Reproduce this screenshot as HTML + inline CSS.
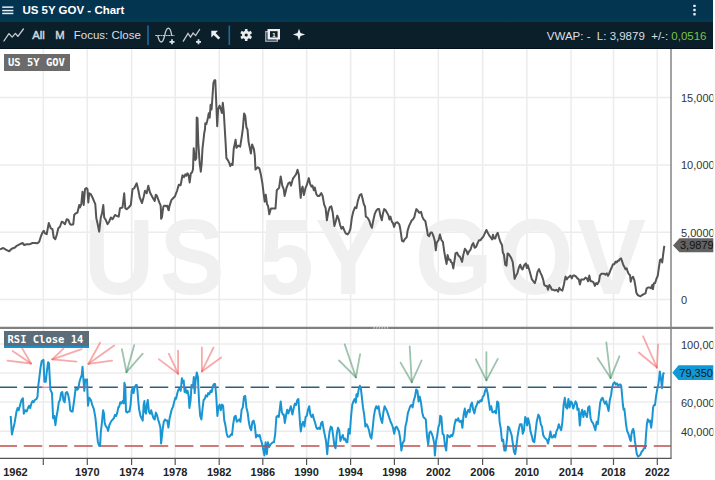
<!DOCTYPE html>
<html><head><meta charset="utf-8">
<style>
*{margin:0;padding:0;box-sizing:border-box}
html,body{width:715px;height:480px;overflow:hidden;background:#fff;font-family:"Liberation Sans",Arial,sans-serif}
#title{position:absolute;left:0;top:0;width:713px;height:21.6px;background:linear-gradient(#03344f 0,#03354f 17px,#053a53 21.6px)}
#tb{position:absolute;left:0;top:21.6px;width:713px;height:27.9px;background:#0b1f2b;border-bottom:1.5px solid #04111a}
.t{position:absolute;white-space:nowrap}
svg{position:absolute;left:0;top:0}
.g{stroke:#ececec;stroke-width:1.5}
.wm{font:bold 108px "Liberation Sans",Arial,sans-serif;fill:#f0f0f0}
.yr{font:bold 11px "Liberation Sans",Arial,sans-serif;fill:#222;text-anchor:middle}
.ax{font:11px "Liberation Sans",Arial,sans-serif;fill:#333}
.tag{font:11px "Liberation Sans",Arial,sans-serif}
.lbl{position:absolute;font:bold 10.5px "DejaVu Sans Mono",monospace;color:#fff;white-space:pre}
</style></head><body>
<div id="title"></div>
<div id="tb"></div>
<svg width="715" height="480" viewBox="0 0 715 480">
<g>
<rect x="2.2" y="6.4" width="11.2" height="1.5" fill="#e6ecf0"/>
<rect x="2.2" y="9.8" width="11.2" height="1.5" fill="#e6ecf0"/>
<rect x="2.2" y="12.7" width="11.2" height="1.5" fill="#e6ecf0"/>
<text x="22.4" y="14.1" font-family="Liberation Sans" font-weight="bold" font-size="11.5" fill="#fff">US 5Y GOV - Chart</text>
<rect x="693.3" y="4.7" width="2.4" height="2.4" rx="0.6" fill="#e8ecef"/>
<rect x="693.3" y="8.85" width="2.4" height="2.4" rx="0.6" fill="#e8ecef"/>
<rect x="693.3" y="13" width="2.4" height="2.4" rx="0.6" fill="#e8ecef"/>
<text x="32.3" y="39.3" font-family="Liberation Sans" font-size="11.3" fill="#d4d8db" stroke="#d4d8db" stroke-width="0.45">All</text>
<text x="55.2" y="39.3" font-family="Liberation Sans" font-size="11.3" fill="#d4d8db" stroke="#d4d8db" stroke-width="0.45">M</text>
<text x="73.8" y="39.3" font-family="Liberation Sans" font-size="11.5" fill="#dcdfe2">Focus: Close</text>
<text x="546.8" y="40.4" font-family="Liberation Sans" font-size="11.5" fill="#dcdfe2" xml:space="preserve">VWAP: -  L: 3,9879  +/-: <tspan fill="#7dc243">0,0516</tspan></text>
</g>
<g>
<line x1="43.3" y1="49" x2="43.3" y2="327" class="g"/>
<line x1="43.3" y1="329" x2="43.3" y2="458" class="g"/>
<line x1="87.3" y1="49" x2="87.3" y2="327" class="g"/>
<line x1="87.3" y1="329" x2="87.3" y2="458" class="g"/>
<line x1="131.6" y1="49" x2="131.6" y2="327" class="g"/>
<line x1="131.6" y1="329" x2="131.6" y2="458" class="g"/>
<line x1="175.2" y1="49" x2="175.2" y2="327" class="g"/>
<line x1="175.2" y1="329" x2="175.2" y2="458" class="g"/>
<line x1="219.2" y1="49" x2="219.2" y2="327" class="g"/>
<line x1="219.2" y1="329" x2="219.2" y2="458" class="g"/>
<line x1="262.8" y1="49" x2="262.8" y2="327" class="g"/>
<line x1="262.8" y1="329" x2="262.8" y2="458" class="g"/>
<line x1="306.6" y1="49" x2="306.6" y2="327" class="g"/>
<line x1="306.6" y1="329" x2="306.6" y2="458" class="g"/>
<line x1="350.6" y1="49" x2="350.6" y2="327" class="g"/>
<line x1="350.6" y1="329" x2="350.6" y2="458" class="g"/>
<line x1="394.4" y1="49" x2="394.4" y2="327" class="g"/>
<line x1="394.4" y1="329" x2="394.4" y2="458" class="g"/>
<line x1="438.3" y1="49" x2="438.3" y2="327" class="g"/>
<line x1="438.3" y1="329" x2="438.3" y2="458" class="g"/>
<line x1="482.6" y1="49" x2="482.6" y2="327" class="g"/>
<line x1="482.6" y1="329" x2="482.6" y2="458" class="g"/>
<line x1="526.9" y1="49" x2="526.9" y2="327" class="g"/>
<line x1="526.9" y1="329" x2="526.9" y2="458" class="g"/>
<line x1="571.1" y1="49" x2="571.1" y2="327" class="g"/>
<line x1="571.1" y1="329" x2="571.1" y2="458" class="g"/>
<line x1="613.5" y1="49" x2="613.5" y2="327" class="g"/>
<line x1="613.5" y1="329" x2="613.5" y2="458" class="g"/>
<line x1="657.3" y1="49" x2="657.3" y2="327" class="g"/>
<line x1="657.3" y1="329" x2="657.3" y2="458" class="g"/>
<line x1="0" y1="97.5" x2="671" y2="97.5" class="g"/>
<line x1="0" y1="165" x2="671" y2="165" class="g"/>
<line x1="0" y1="232.3" x2="671" y2="232.3" class="g"/>
<line x1="0" y1="299.6" x2="671" y2="299.6" class="g"/>
<line x1="0" y1="344" x2="671" y2="344" class="g"/>
<line x1="0" y1="373" x2="671" y2="373" class="g"/>
<line x1="0" y1="402" x2="671" y2="402" class="g"/>
<line x1="0" y1="431.3" x2="671" y2="431.3" class="g"/>
<text transform="translate(84.00,294) scale(0.9000,1)" class="wm">U</text>
<text transform="translate(159.80,294) scale(0.9000,1)" class="wm">S</text>
<text transform="translate(259.18,294) scale(0.9057,1)" class="wm">5</text>
<text transform="translate(315.27,294) scale(0.9162,1)" class="wm">Y</text>
<text transform="translate(414.70,294) scale(0.9260,1)" class="wm">G</text>
<text transform="translate(498.00,294) scale(0.9000,1)" class="wm">O</text>
<text transform="translate(576.94,294) scale(0.9571,1)" class="wm">V</text>
<polyline points="0,249.2 3.3,248 5.8,249.7 9.2,251.3 11.7,248.7 15,247.5 16.7,245.8 20,244.2 22.5,243 24.2,245 26.7,244.2 30,244.2 32.5,243 35,243 37.5,243.3 39.2,241.7 40.8,236.7 42.5,232.5 43.7,230.8 45,233.3 46.7,234.2 48.8,223 50.8,228.3 52.5,229.2 53.7,237.5 55.3,239.2 56.7,235 58.3,228.3 60,226.7 61.7,221.7 63.3,222.5 65,224.2 66.7,219.2 68.3,220 70,224.2 71.7,224.7 73.3,224.2 74.2,215 75.8,213.3 77.5,212.5 79.2,205 80,207.5 81.3,204.2 82.5,191.7 83.7,205 85,189.2 86.3,188 87.5,189.2 88.3,202.5 89.2,193.3 90.8,194.2 92.5,197.5 94.2,201.7 95.3,204.2 96.3,218.3 97.5,223.3 99.2,231.7 100.8,217.5 102,213.3 103.3,205 104.2,217.5 105.8,220 107.5,224.2 109.2,221.7 110.8,217.5 112.5,219.2 115,215 116.7,215.8 118.7,216.7 120,208.3 122.5,207.5 124.2,193.3 125.3,208.3 126.7,209.2 128.7,207.5 130.8,205 132.5,189.2 134.2,188.3 136.7,183.3 138.3,190 139.7,197.5 142,203 143.7,196.7 145,190.8 146.7,193.3 148.3,185.8 150,192.5 151.7,195.8 153.3,198.8 154.7,201 155.8,194.7 156.9,195.8 158,198.8 159.5,202.8 160.6,205.3 161,211.9 161.1,218.8 162,217 162.8,210.4 163.5,206.4 164.2,205.7 165.3,205.7 166.4,206.4 167.5,205.7 168.2,209.7 168.8,210.1 169.3,206.8 170.4,203.1 171.5,199.9 172.6,198.8 174.1,197.3 175.2,195.8 175.9,193.6 177,191.1 178.8,184.7 180.6,185.3 181.6,180 182.5,175.3 184,177.2 185.3,174.4 186.3,175.8 187.5,173.3 188.7,175.8 189.7,182.5 190.8,173.3 192,172.5 193,169.2 193.7,148.3 194.7,156.7 195.3,160 196.3,158.3 196.7,117.5 197.5,118.3 198.3,143.3 199.7,163.3 200.8,171.7 201.7,163.3 202.5,148.3 203.3,141.7 204.2,133.3 205,129.2 205.3,123.3 206.3,124.2 207,121.7 208,117.5 208.7,113.3 209.7,117.8 210.6,104.7 211.6,109.4 212.5,96.3 213.4,83.1 214.4,80.3 215.3,80.3 215.9,94.4 217.2,126.3 218.1,109.4 219.6,105.6 220.9,109.4 221.9,113.1 222.8,102.8 223.8,112.2 224.6,126 225.7,144.4 226.4,158.1 228,160.4 229.2,162.7 230.3,166.1 231.5,163.9 232.6,165 233.7,149 235.6,139.8 236.5,147.8 238.3,145.5 240.2,146.7 241.8,136.4 242.9,128.3 244.1,113.4 245.2,115.7 246.4,127.2 247.5,129.5 248.6,142.1 249.8,147.8 250.9,153.5 252.1,144.4 253.9,149 254.8,155.8 255.5,169.6 256.7,168.4 257.8,167.3 259.4,168.4 260.8,174.2 262.4,183.3 263.5,192.5 264.7,201.7 265.8,194.8 267,204 268.1,206.2 269.3,214.3 270.9,208.5 273.2,208.5 275.5,208.5 276.8,190.2 279.1,187.9 280.7,176.5 282.3,185.6 283.7,189.1 284.6,195.9 286.5,187.9 288.3,183.3 289.9,182.2 291,185.6 292.9,178.7 294.5,176.5 296.1,174.2 297.5,169.7 298.8,174.4 299.8,187.5 300.7,197.8 301.6,189.4 302.6,186.6 303.9,195 305.4,188.4 306.9,184.7 308.8,178.1 310.1,183.8 311.4,186.6 312.5,185.6 313.8,190.3 314.8,187.5 316.3,194.1 317.6,195.9 319.4,195.9 321.3,193.1 322.6,195.9 324.1,204.4 325.6,208.1 326.9,220.3 328.3,211.9 329.8,207.2 331.3,206.3 332.6,211.9 334.4,225.9 335.8,221.3 337.3,215.6 338.8,219.4 340.1,225 341.4,228.8 342.9,226.9 344.4,230.6 345.7,233.4 347.6,234.4 349.1,232.5 350.4,228.8 351.9,217.5 353.2,211.9 355.1,207.2 356.4,208.1 357.9,200.6 359.8,195 361.3,194.1 362.6,198.8 363.9,204.4 365,206.3 365.8,216.6 367.3,217.5 369.1,220.3 370.6,225 371.9,227.8 373.5,219.4 374.8,213.8 376.1,210.9 377.6,209.1 379.1,209.1 380.4,215.6 381.8,220.3 382.9,213.8 384.2,209.1 385.5,210 387,212.8 388.5,215.6 389.3,219.4 390.4,216.6 391.7,221.3 393,223.1 394.1,226.9 395.4,223.1 397.3,222.2 399.2,224.1 400.1,227.8 401.1,234.4 402,240.9 403.5,241.5 404.8,239.1 406.7,237.2 407.6,230.6 409.1,225.9 410.4,223.1 411.8,220.3 412.9,219.4 414.2,217.5 415.1,213.8 416.4,209.1 417.9,210.9 419.3,212.8 421.1,211.9 422.3,216.6 423.6,219.4 425.4,221.3 426.8,228.8 427.9,235.3 429.2,236.3 430.5,232.5 432,232.5 433.5,236.3 434.8,240.9 435.8,250.3 436.7,242.8 438.6,240 439.9,234.4 441.4,240 442.9,241.9 444.2,251.3 445.5,258.8 446.6,264 447.6,255 448.9,259.7 450.4,259.7 450.8,261.9 452.1,262.8 453.3,268.4 454.6,260 455.5,253.4 457,252.5 458.3,255.3 460.2,257.2 462.1,261.9 463.4,254.4 464.9,248.8 466.4,250.6 467.7,254.4 469,251.6 470.5,249.7 472,245 473.3,243.1 474.6,247.8 476.1,246.9 477.6,243.1 478.9,240.3 480.3,240.3 481.8,238.4 483.3,236.6 484.6,233.8 486.4,230 487.8,232.8 489.3,235.6 490.8,237.5 492.1,239.4 493,234.7 493.9,238.4 495.3,238.4 496.4,234.7 497.7,232.8 499,237.5 500.5,242.2 502,245 502.8,252.5 503.9,254.4 505.2,264.7 506.5,265.6 507.6,253.4 508.9,254.4 510.8,257.2 512.7,261.9 513.6,269.4 514.6,278.8 515.9,275.9 517.4,273.1 518.9,267.5 520.2,264.7 521.5,268.4 522.6,269.4 524,265.6 524.9,264.4 525.9,263.4 526.8,268.1 527.8,265.3 529.3,270 530.6,274.7 531.9,279.4 533.4,281.3 534.9,283.1 536.2,278.4 537.5,271.9 539,269.1 540.5,272.8 541.8,275.6 543.1,279.4 544.3,285 545.6,285.9 546.9,285.9 548,289.7 549.3,285 550.6,286.9 551.8,289.7 553.1,289.7 554.9,290.6 556.8,289.7 558.1,291.6 559.3,287.8 560.6,289.7 562.4,290.6 563.8,285 564.9,279.4 565.6,276.6 566.8,279.4 568.1,277.5 569.4,276.6 570.5,275.6 571.8,278.4 573.1,275.6 574.6,275.6 576.1,276.6 577.4,278.4 578.8,279.4 579.9,284.6 581.2,279.4 582.5,279.4 584,279.4 585.5,277.5 586.8,278.4 588.1,281.3 589.3,275.6 590.6,281.3 591.9,281.3 593.4,282.2 594.9,285.9 596.2,283.1 597.5,284.1 599,281.3 599.9,275.6 601.3,273.8 602.8,273.8 603.8,273.7 605.5,274.7 606.7,273.3 608,275.8 609.3,273.3 610.5,270 611.7,267.5 613,264.2 614.3,264.2 615.5,261.7 616.7,262.5 617.7,260.8 618.8,260.8 619.7,259.2 621,258.3 622.2,261.7 623.3,265 624.7,267.5 625.5,269.2 626.7,268.3 627.7,271.7 628.8,274.2 630,275 630.7,281.7 631.7,278.3 633,276.7 634.3,280 635.5,286.7 636.3,292.5 637.7,295 639.3,295.8 640.5,296.3 642.2,295 643.8,294.2 645.5,293.3 646.7,288.3 648,287.5 649.7,287.5 651,288.3 652.2,285 653,289.2 653.8,283.3 655,283.3 656.3,279.2 657.7,275.8 658.8,268.3 660,260 661,259.2 662.2,262.5 663.3,253.3 664.3,245.8" fill="none" stroke="#555" stroke-width="2" stroke-linejoin="round"/>
<line x1="0" y1="387.3" x2="671" y2="387.3" stroke="#2f5d7c" stroke-width="1.6" stroke-dasharray="18.5 6.7" stroke-dashoffset="1.45"/>
<line x1="0" y1="446" x2="671" y2="446" stroke="#c0504f" stroke-width="1.6" stroke-dasharray="18.5 6.7" stroke-dashoffset="1.45"/>
<polyline points="10.7,416 11.9,434.4 13,429.8 14.6,422.9 16.5,411.5 17.6,408 18.7,410.3 19.9,405.7 21.5,400 22.9,398.2 23.8,413.7 25.2,410.3 26.8,411.5 27.9,408 29.1,405.7 30.2,408 31.4,403.4 32.5,401.1 33.6,402.3 34.8,400 36.6,398.8 37.5,396.6 38.2,386.2 39.4,377.1 40.5,367.9 41.7,361 43.5,359.9 44.4,381.7 45.8,381.7 46.7,372.5 48.1,362.2 49,363.3 49.7,377.1 50.4,389.7 52,393.1 53.1,418.3 54.3,416 55.4,425.2 56.6,416 57.7,410.3 58.8,402.3 60,400 61.1,393.1 62.3,392 63.4,400 64.6,402.3 65.7,393.1 66.9,392 68,394.3 69.2,400 70.3,410.3 71.5,411.5 72.6,411.5 74.2,400 75.6,388.5 77.2,389.7 78.3,388.5 79.5,381.7 80.6,378.2 81.8,374.8 82.5,366.8 83.4,379.4 84.3,390.8 85.2,379.4 86.4,380.5 87,379.4 87.5,393.1 88,405.7 89.3,397.7 90.9,400 92.1,404.6 93.9,409.2 95.5,418.3 96.7,430.9 97.8,441.2 99,445.8 100.1,445.8 100.8,432.1 101.9,422.9 103.1,410.3 104,413.7 104.7,422.9 105.8,426.3 107,427.5 108.1,430.9 109.3,425.2 110.4,422.9 111.6,420.6 112.7,419.5 113.8,418.3 115,414.9 116.1,416 117.3,412.6 118.4,406.9 119.1,406.9 120.3,402.3 121.4,403.4 122.6,401.1 123.7,403.4 124.4,382.8 125.3,386.2 126,411.5 127.2,412.6 128.3,411.5 129.5,411.5 130.6,404.6 131.7,390.8 132.9,387.4 133.6,393.1 134.5,387.4 135.9,385.1 136.8,385.1 137.5,390.8 138.2,400 139.1,409.2 140.5,416 141.6,418.3 142.7,420.6 143.7,404.6 144.4,401.1 145,411.5 146,413.7 146.9,404.6 147.8,400 148.9,411.5 150.1,413.7 151.2,410.3 152.4,414.9 153.5,418.3 154.7,419.5 155.8,412.6 157,414.9 158.1,419.5 159.2,422.9 160.4,427.5 161.1,443.5 162,435.5 162.9,427.5 163.8,421.8 165,419.5 166.1,420.6 167.3,420.6 168.4,427.5 169.6,418.3 170.7,413.7 171.8,409.2 173,406.9 174.1,402.3 175.3,397.7 176.1,398.8 177.3,393.1 178.4,389.7 179.6,388.5 180.7,390.8 181.9,378.2 182.6,382.8 183.7,380.5 184.6,392 185.5,388.5 186.5,393.1 187.6,390.8 188.7,396.6 189.4,408 190.6,400 191.5,385.1 192.9,387.4 193.8,377.1 194.7,393.1 195.6,380.5 196.8,372.5 197.9,377.1 199.1,402.3 200.2,416 201.4,419.5 202.5,409.2 203.6,400 204.8,398.8 205.9,395.4 207.1,396.6 208.2,393.1 209.4,394.3 210.5,390.8 211.7,392 212.8,386.2 214,384 215.1,384 216.2,395.4 217.4,416 218.5,406.9 219.7,404.6 220.8,410.3 222,404.6 223.1,405.7 224.3,420.6 225.4,425.2 226.6,433.2 227.7,436.7 229.5,436.7 231.1,434.4 232,435 233.2,424.2 234.4,417 235.6,415.8 236.8,421.8 238,420.6 239.2,419.4 240.4,421.8 241.6,409.8 242.8,407.4 244,396.6 245.2,395.9 246.4,407.4 247.6,412.2 248.8,421.8 250,427.8 251.2,430.2 252.4,421.8 253.6,420.6 254.8,425.4 256,437.4 257.2,435 258.4,436.2 259.6,435 260.8,439.8 262,443.4 263.2,449.4 264.4,455.4 265.6,442.2 266.8,454.2 268,442.2 269.2,447 270.4,444.6 271.6,443.4 272.8,442.2 274,442.2 275.2,433.8 276.4,417 277.6,415.8 278.8,417 280,407.4 280.7,401.4 281.9,412.2 282.9,414.6 283.8,414.6 284.8,423 286,415.8 287.2,409.8 288.4,413.4 289.6,409.8 290.8,406.2 292.4,414.6 293.6,408.6 294.8,403.8 296,405 297.2,400.2 298.4,399 299.1,409.8 300.1,424.2 300.8,431.4 302,424.2 303.2,421.8 304.4,426.6 305.6,417 306.8,415.8 308,409.8 309.2,406.2 310.4,414.6 311.6,417 312.8,414.6 314,419.4 315.2,423 316.4,427.8 317.6,429 318.8,427.8 320,429 321.2,423 322.4,421.8 323.6,429 324.8,435 326,441 327.2,454.2 328.4,441 329.6,431.4 330.8,426.6 332,427.8 333.2,436.2 334.4,445.8 335.6,448.2 336.8,433.8 338,427.8 339.2,430.2 340.4,441 341.6,437.4 342.8,435 344,439.8 345.2,438.6 346.4,442.2 347.4,442.2 348.6,429 349.8,433.8 351,417 352.2,405 353.4,401.4 354.6,399 355.8,402.6 356.5,394.2 357.5,396.6 358.7,389.4 359.9,385.8 360.8,388.2 361.8,396.6 363,407.4 364.2,414.6 365.4,426.6 366.6,424.2 367.8,426.6 369,430.2 370.2,436.2 371.4,438.6 372.6,429 373.8,417 375,409.8 376.2,406.2 377.4,408.6 378.6,406.2 379.8,414.6 381,419.4 382.2,423 383.4,412.2 384.6,406.2 385.8,408.6 387,411 388.2,414.6 389.4,418.2 390.6,421.8 391.8,424.2 393,427.8 394.2,433.8 395.4,427.8 396.6,426.6 397.8,429 399,431.4 400.2,438.6 401.4,450.6 402.6,443.4 403.8,441 404.2,441 405.4,426.6 406.6,421.8 407.8,413.4 409,409.8 410.2,406.2 411.4,405 412.6,407.4 413.8,400.2 415,396.6 416.2,389.4 417.4,390.6 418.6,401.4 419.8,396.6 421,402.6 422.2,412.2 423.4,417 424.6,418.2 425.8,419.4 427,436.2 428.2,444.6 429.4,432.6 430.6,431.4 431.8,433.8 433,437.4 434.2,443.4 434.9,455.4 436.1,441 437.1,436.2 438.5,426.6 439.5,424.2 440.2,415.8 441.4,417 442.6,433.8 443.8,435 445,445.8 446.2,450.6 447.4,435 448.6,436.2 449.8,437.4 451,435 452.2,436.2 453.4,432.6 454.6,424.2 455.8,419.4 457,420.6 458.2,418.2 459.4,421.8 460,421.8 461.2,420.6 462.4,427.8 463.6,414.6 464.8,408.6 466,417 467.2,412.2 468.4,409.8 469.6,412.2 470.8,405 472,402.6 473.2,409.8 474.4,413.4 475.6,407.4 476.8,405 478,401.4 479.2,402.6 480.4,400.2 481.6,401.4 482.8,396.6 484,395.4 485.2,390.6 486.4,388.2 487.6,393 488.8,401.4 490,409.8 491.2,406.2 492.4,412.2 493.6,412.2 494.8,411 496,413.4 497.2,401.4 498.4,402.6 499.6,421.8 500.8,429 502,441 503.2,439.8 504.4,450.6 505.6,450.6 506.8,441 508,426.6 509.2,427.8 510.4,431.4 511.6,435 512.8,443.4 514,451.8 515.2,454.2 516.4,445.8 517.6,436.2 518.8,429 520,424.2 521.6,424.2 522.8,433.8 524,430.2 525.2,417 526.4,419.4 527.1,425.4 528.1,418.2 529.5,424.2 530.5,431.4 531.9,436.2 532.9,441 534.3,442.2 535.3,433.8 536.7,421.8 538.4,414.6 539.6,417 540.8,424.2 542,426.6 543.2,435 544.4,437.4 545.6,438.6 546.8,439.8 548,443.4 549.2,438.6 550.4,431.4 551.6,437.4 552.8,437.4 554,435 555.2,437.4 556.4,431.4 557.6,429 558.8,424.2 560,427.8 561.2,430.2 562.4,421.8 563.6,405 564.8,397.8 566,407.4 567.2,408.6 568.4,399 569.6,407.4 570.8,401.4 572,402.6 573.2,408.6 574.4,405 575.6,401.4 576.8,403.8 577.4,409.8 578.6,408.6 579.8,425.4 581,413.4 582.2,409.8 583.4,417 584.6,411 585.8,414.6 587,417 588.2,407.4 589.4,406.2 590.6,418.2 591.8,421.8 593,423 594.2,426.6 595.4,430.2 596.6,421.8 597.8,424.2 599,413.4 600.2,402.6 601.4,399 602.6,397.8 603.8,401.4 605,403.8 606.2,401.4 607.4,406.2 608.6,411 609.8,400.2 611,395.4 612.2,387 613.4,383.4 614.6,382.2 615.8,384.6 617,383.4 618.2,385.8 619.4,384.6 620.6,384.6 621.2,385.8 621.9,393 622.9,405 623.6,409.7 624.3,408.5 625.3,417 626,424.1 627.2,431.3 628.4,433.7 629.1,436.1 630.1,439.7 630.8,440.9 631.5,433.7 632.5,430.1 633.2,428.9 633.9,431.3 634.9,440.9 635.6,445.7 636.8,454.1 638,456.5 639.2,455.8 640.4,454.8 641.6,451.7 642.8,450.5 644,448.1 645.2,448.1 645.9,436.1 646.9,424.1 647.8,419.3 648.8,421.7 650,420.5 651.2,427.7 652.1,420.5 653.1,407.4 654.1,405 655,405 656,396.6 657.2,389.4 658.4,384.6 659.1,378.6 659.8,371.4 660.8,377.4 662,388.2 663.2,373.8 664.4,372.6" fill="none" stroke="#1895d2" stroke-width="2" stroke-linejoin="round"/>
<line x1="38.1" y1="387.3" x2="50.3" y2="387.3" stroke="#e2507e" stroke-width="1.5" stroke-opacity="0.65"/>
<line x1="78.5" y1="387.3" x2="87.3" y2="387.3" stroke="#e2507e" stroke-width="1.5" stroke-opacity="0.65"/>
<line x1="124.2" y1="387.3" x2="125.3" y2="387.3" stroke="#e2507e" stroke-width="1.5" stroke-opacity="0.65"/>
<line x1="134.6" y1="387.3" x2="137.1" y2="387.3" stroke="#e2507e" stroke-width="1.5" stroke-opacity="0.65"/>
<line x1="181" y1="387.3" x2="184.2" y2="387.3" stroke="#e2507e" stroke-width="1.5" stroke-opacity="0.65"/>
<line x1="191.4" y1="387.3" x2="198.4" y2="387.3" stroke="#e2507e" stroke-width="1.5" stroke-opacity="0.65"/>
<line x1="212.6" y1="387.3" x2="215.4" y2="387.3" stroke="#e2507e" stroke-width="1.5" stroke-opacity="0.65"/>
<line x1="359.4" y1="387.3" x2="360.5" y2="387.3" stroke="#e2507e" stroke-width="1.5" stroke-opacity="0.65"/>
<line x1="612.2" y1="387.3" x2="621.3" y2="387.3" stroke="#e2507e" stroke-width="1.5" stroke-opacity="0.65"/>
<line x1="657.7" y1="387.3" x2="664.4" y2="387.3" stroke="#e2507e" stroke-width="1.5" stroke-opacity="0.65"/>
<line x1="262.5" y1="446" x2="269.7" y2="446" stroke="#c8484f" stroke-width="1.6" stroke-opacity="0.85"/>
<line x1="326.5" y1="446" x2="327.9" y2="446" stroke="#c8484f" stroke-width="1.6" stroke-opacity="0.85"/>
<line x1="334.5" y1="446" x2="335.8" y2="446" stroke="#c8484f" stroke-width="1.6" stroke-opacity="0.85"/>
<line x1="400.9" y1="446" x2="402.2" y2="446" stroke="#c8484f" stroke-width="1.6" stroke-opacity="0.85"/>
<line x1="434.4" y1="446" x2="435.7" y2="446" stroke="#c8484f" stroke-width="1.6" stroke-opacity="0.85"/>
<line x1="445" y1="446" x2="446.6" y2="446" stroke="#c8484f" stroke-width="1.6" stroke-opacity="0.85"/>
<line x1="503.9" y1="446" x2="506.2" y2="446" stroke="#c8484f" stroke-width="1.6" stroke-opacity="0.85"/>
<line x1="513.2" y1="446" x2="516.4" y2="446" stroke="#c8484f" stroke-width="1.6" stroke-opacity="0.85"/>
<line x1="628.5" y1="446" x2="646.5" y2="446" stroke="#c8484f" stroke-width="1.6" stroke-opacity="0.85"/>
<line x1="7.5" y1="360.6" x2="31" y2="363.5" stroke="#f06464" stroke-width="1.8" stroke-opacity="0.55" stroke-linecap="round"/>
<line x1="12.6" y1="350.9" x2="31" y2="363.5" stroke="#f06464" stroke-width="1.8" stroke-opacity="0.55" stroke-linecap="round"/>
<line x1="22.2" y1="348.4" x2="31" y2="363.5" stroke="#f06464" stroke-width="1.8" stroke-opacity="0.55" stroke-linecap="round"/>
<line x1="76.5" y1="361.7" x2="52.3" y2="359.3" stroke="#f06464" stroke-width="1.8" stroke-opacity="0.55" stroke-linecap="round"/>
<line x1="81.7" y1="349.1" x2="52.3" y2="359.3" stroke="#f06464" stroke-width="1.8" stroke-opacity="0.55" stroke-linecap="round"/>
<line x1="63.4" y1="348.6" x2="52.3" y2="359.3" stroke="#f06464" stroke-width="1.8" stroke-opacity="0.55" stroke-linecap="round"/>
<line x1="112.1" y1="360.7" x2="88.5" y2="363.8" stroke="#f06464" stroke-width="1.8" stroke-opacity="0.55" stroke-linecap="round"/>
<line x1="114.2" y1="345.4" x2="88.5" y2="363.8" stroke="#f06464" stroke-width="1.8" stroke-opacity="0.55" stroke-linecap="round"/>
<line x1="100.1" y1="342.8" x2="88.5" y2="363.8" stroke="#f06464" stroke-width="1.8" stroke-opacity="0.55" stroke-linecap="round"/>
<line x1="121.9" y1="349.1" x2="126.5" y2="372.2" stroke="#4f946a" stroke-width="1.8" stroke-opacity="0.55" stroke-linecap="round"/>
<line x1="134.2" y1="345.2" x2="126.5" y2="372.2" stroke="#4f946a" stroke-width="1.8" stroke-opacity="0.55" stroke-linecap="round"/>
<line x1="142.7" y1="353.7" x2="126.5" y2="372.2" stroke="#4f946a" stroke-width="1.8" stroke-opacity="0.55" stroke-linecap="round"/>
<line x1="158.8" y1="359.1" x2="178.1" y2="373.7" stroke="#f06464" stroke-width="1.8" stroke-opacity="0.55" stroke-linecap="round"/>
<line x1="168.8" y1="353.7" x2="178.1" y2="373.7" stroke="#f06464" stroke-width="1.8" stroke-opacity="0.55" stroke-linecap="round"/>
<line x1="178.1" y1="350.6" x2="178.1" y2="373.7" stroke="#f06464" stroke-width="1.8" stroke-opacity="0.55" stroke-linecap="round"/>
<line x1="201.9" y1="347.5" x2="201.9" y2="371.4" stroke="#f06464" stroke-width="1.8" stroke-opacity="0.55" stroke-linecap="round"/>
<line x1="213.5" y1="347.5" x2="201.9" y2="371.4" stroke="#f06464" stroke-width="1.8" stroke-opacity="0.55" stroke-linecap="round"/>
<line x1="221.2" y1="357.5" x2="201.9" y2="371.4" stroke="#f06464" stroke-width="1.8" stroke-opacity="0.55" stroke-linecap="round"/>
<line x1="344.7" y1="344.4" x2="355.9" y2="377.3" stroke="#4f946a" stroke-width="1.8" stroke-opacity="0.55" stroke-linecap="round"/>
<line x1="339.1" y1="360.5" x2="355.9" y2="377.3" stroke="#4f946a" stroke-width="1.8" stroke-opacity="0.55" stroke-linecap="round"/>
<line x1="360.1" y1="354.2" x2="355.9" y2="377.3" stroke="#4f946a" stroke-width="1.8" stroke-opacity="0.55" stroke-linecap="round"/>
<line x1="409.7" y1="346.5" x2="411.8" y2="382.2" stroke="#4f946a" stroke-width="1.8" stroke-opacity="0.55" stroke-linecap="round"/>
<line x1="400.6" y1="362.6" x2="411.8" y2="382.2" stroke="#4f946a" stroke-width="1.8" stroke-opacity="0.55" stroke-linecap="round"/>
<line x1="421.6" y1="360.5" x2="411.8" y2="382.2" stroke="#4f946a" stroke-width="1.8" stroke-opacity="0.55" stroke-linecap="round"/>
<line x1="486.4" y1="352.1" x2="486.4" y2="380.3" stroke="#4f946a" stroke-width="1.8" stroke-opacity="0.55" stroke-linecap="round"/>
<line x1="475.9" y1="359.4" x2="486.4" y2="380.3" stroke="#4f946a" stroke-width="1.8" stroke-opacity="0.55" stroke-linecap="round"/>
<line x1="497.8" y1="358.9" x2="486.4" y2="380.3" stroke="#4f946a" stroke-width="1.8" stroke-opacity="0.55" stroke-linecap="round"/>
<line x1="606.3" y1="342.5" x2="610.6" y2="378.1" stroke="#4f946a" stroke-width="1.8" stroke-opacity="0.55" stroke-linecap="round"/>
<line x1="597.5" y1="358.1" x2="610.6" y2="378.1" stroke="#4f946a" stroke-width="1.8" stroke-opacity="0.55" stroke-linecap="round"/>
<line x1="619.4" y1="356.3" x2="610.6" y2="378.1" stroke="#4f946a" stroke-width="1.8" stroke-opacity="0.55" stroke-linecap="round"/>
<line x1="643.1" y1="336.3" x2="656.9" y2="367.5" stroke="#f06464" stroke-width="1.8" stroke-opacity="0.55" stroke-linecap="round"/>
<line x1="638.8" y1="352.5" x2="656.9" y2="367.5" stroke="#f06464" stroke-width="1.8" stroke-opacity="0.55" stroke-linecap="round"/>
<line x1="658.1" y1="344.4" x2="656.9" y2="367.5" stroke="#f06464" stroke-width="1.8" stroke-opacity="0.55" stroke-linecap="round"/>
<line x1="671" y1="49" x2="671" y2="458.5" stroke="#666" stroke-width="1.2"/>
<line x1="0" y1="458.3" x2="671.5" y2="458.3" stroke="#555" stroke-width="1.2"/>
<line x1="0" y1="327.9" x2="713.3" y2="327.9" stroke="#808080" stroke-width="2.2"/>
<rect x="373.5" y="327.3" width="1.2" height="1.2" fill="#e8e8e8"/>
<rect x="376.2" y="327.3" width="1.2" height="1.2" fill="#e8e8e8"/>
<rect x="378.9" y="327.3" width="1.2" height="1.2" fill="#e8e8e8"/>
<rect x="381.6" y="327.3" width="1.2" height="1.2" fill="#e8e8e8"/>
<rect x="384.3" y="327.3" width="1.2" height="1.2" fill="#e8e8e8"/>
<rect x="387.0" y="327.3" width="1.2" height="1.2" fill="#e8e8e8"/>
<line x1="43.3" y1="458" x2="43.3" y2="465" stroke="#555" stroke-width="1.2"/>
<line x1="87.3" y1="458" x2="87.3" y2="465" stroke="#555" stroke-width="1.2"/>
<line x1="131.6" y1="458" x2="131.6" y2="465" stroke="#555" stroke-width="1.2"/>
<line x1="175.2" y1="458" x2="175.2" y2="465" stroke="#555" stroke-width="1.2"/>
<line x1="219.2" y1="458" x2="219.2" y2="465" stroke="#555" stroke-width="1.2"/>
<line x1="262.8" y1="458" x2="262.8" y2="465" stroke="#555" stroke-width="1.2"/>
<line x1="306.6" y1="458" x2="306.6" y2="465" stroke="#555" stroke-width="1.2"/>
<line x1="350.6" y1="458" x2="350.6" y2="465" stroke="#555" stroke-width="1.2"/>
<line x1="394.4" y1="458" x2="394.4" y2="465" stroke="#555" stroke-width="1.2"/>
<line x1="438.3" y1="458" x2="438.3" y2="465" stroke="#555" stroke-width="1.2"/>
<line x1="482.6" y1="458" x2="482.6" y2="465" stroke="#555" stroke-width="1.2"/>
<line x1="526.9" y1="458" x2="526.9" y2="465" stroke="#555" stroke-width="1.2"/>
<line x1="571.1" y1="458" x2="571.1" y2="465" stroke="#555" stroke-width="1.2"/>
<line x1="613.5" y1="458" x2="613.5" y2="465" stroke="#555" stroke-width="1.2"/>
<line x1="657.3" y1="458" x2="657.3" y2="465" stroke="#555" stroke-width="1.2"/>
<text x="15.5" y="475.7" class="yr">1962</text>
<text x="87.3" y="475.7" class="yr">1970</text>
<text x="131.6" y="475.7" class="yr">1974</text>
<text x="175.2" y="475.7" class="yr">1978</text>
<text x="219.2" y="475.7" class="yr">1982</text>
<text x="262.8" y="475.7" class="yr">1986</text>
<text x="306.6" y="475.7" class="yr">1990</text>
<text x="350.6" y="475.7" class="yr">1994</text>
<text x="394.4" y="475.7" class="yr">1998</text>
<text x="438.3" y="475.7" class="yr">2002</text>
<text x="482.6" y="475.7" class="yr">2006</text>
<text x="526.9" y="475.7" class="yr">2010</text>
<text x="571.1" y="475.7" class="yr">2014</text>
<text x="613.5" y="475.7" class="yr">2018</text>
<text x="657.3" y="475.7" class="yr">2022</text>
<defs><clipPath id="rc"><rect x="671" y="49" width="42.3" height="420"/></clipPath></defs>
<g clip-path="url(#rc)">
<text x="681" y="101.5" class="ax">15,000</text>
<text x="681" y="169.0" class="ax">10,000</text>
<text x="681" y="237.4" class="ax">5,0000</text>
<text x="681" y="304.4" class="ax">0</text>
<text x="681" y="348.8" class="ax">100,000</text>
<text x="681" y="406.8" class="ax">60,000</text>
<text x="681" y="436.1" class="ax">40,000</text>
<polygon points="673,245.4 679.5,238.3 715,238.3 715,252.3 679.5,252.3" fill="#626262"/>
<text x="680" y="248.9" class="tag" fill="#111">3,9879</text>
<polygon points="672.3,372.7 678.5,365.3 715,365.3 715,379.9 678.5,379.9" fill="#1199d6"/>
<text x="679.3" y="376.9" class="tag" fill="#0a1a22">79,350</text>
</g>
</g>
<!-- toolbar icons -->
<g fill="none" stroke="#c8ccd0" stroke-width="1.3" stroke-linejoin="round" stroke-linecap="round">
 <polyline points="3.9,41 8.9,33.6 12.2,37.1 15.4,33.4 17.9,36.4 23.4,29"/>
</g>
<line x1="148" y1="25.5" x2="148" y2="45" stroke="#1e6a9a" stroke-width="1.6"/>
<line x1="229.3" y1="25.5" x2="229.3" y2="45" stroke="#1e6a9a" stroke-width="1.6"/>
<g fill="none" stroke="#c8ccd0" stroke-width="1.3" stroke-linecap="round">
 <line x1="155.6" y1="35.5" x2="174" y2="35.5" stroke-dasharray="1.3 1.3" stroke-width="1"/>
 <path d="M157.8,35.8 C158.8,40 159.8,42 161.3,42 C163.3,42 164,38 164.8,35 C165.8,30.5 166.8,28.2 168.3,28.2 C170,28.2 171,31 171.6,35"/>
 <path d="M169.5,41.8 h5 M172,39.3 v5" stroke-width="1.7" stroke-linecap="butt" stroke="#e0e3e6"/>
 <polyline points="183.3,41.1 188,33.5 190.5,37.1 193.1,33.1 195.6,35.6 199.6,29.5"/>
 <path d="M196,41.8 h5 M198.5,39.3 v5" stroke-width="1.7" stroke-linecap="butt" stroke="#e0e3e6"/>
</g>
<g fill="#eceef0">
 <polygon points="211.3,30.8 218,30.8 211.3,37.5"/>
 <line x1="213.3" y1="32.8" x2="219.3" y2="38.6" stroke="#eceef0" stroke-width="2.7"/>
</g>
<g transform="translate(246.2,35)" fill="#e8eaec">
 <circle r="4.2"/>
 <g><rect x="-1.3" y="-6" width="2.6" height="12"/><rect x="-1.3" y="-6" width="2.6" height="12" transform="rotate(60)"/><rect x="-1.3" y="-6" width="2.6" height="12" transform="rotate(120)"/></g>
 <circle r="1.6" fill="#0c1f2b"/>
</g>
<g>
 <rect x="265.8" y="31.6" width="11.5" height="9.6" fill="none" stroke="#aeb3b7" stroke-width="1.3"/>
 <rect x="267.5" y="29" width="12.5" height="10.5" fill="#eceef0"/>
 <rect x="270" y="31.2" width="7.6" height="6.2" fill="#0c1f2b"/>
 <text x="273.9" y="36.6" font-family="Liberation Sans" font-weight="bold" font-size="6" fill="#fff" text-anchor="middle">1</text>
</g>
<g fill="#eef0f2">
 <path d="M299,28.8 L300.5,33.1 L305.2,34.6 L300.5,36.1 L299,40.4 L297.5,36.1 L292.8,34.6 L297.5,33.1 Z"/>
</g>
</svg>
<div class="lbl" style="left:4px;top:54.2px;width:66px;height:16.5px;background:#6b6b6b;padding:1.2px 0 0 4px;line-height:14px">US 5Y GOV</div>
<div class="lbl" style="left:3.5px;top:331.3px;width:85px;height:16.4px;background:#5b6d78;border-bottom:2.6px solid #1b90cc;padding:2px 0 0 4px;line-height:13px">RSI Close 14</div>
</body></html>
